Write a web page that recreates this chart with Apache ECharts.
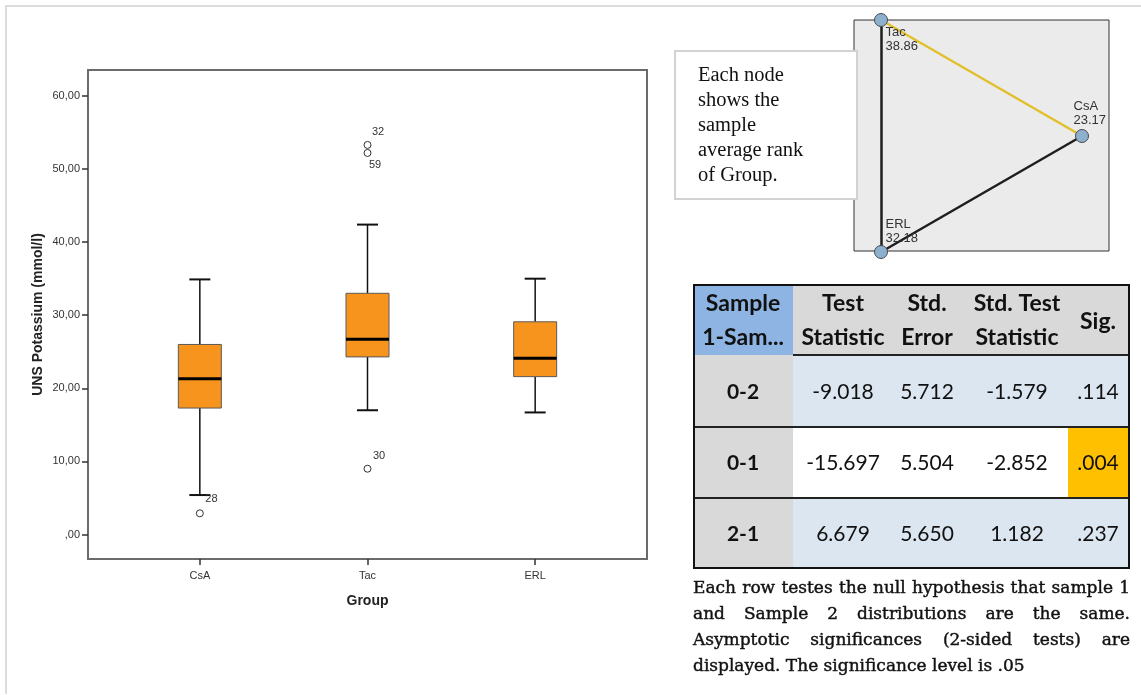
<!DOCTYPE html>
<html><head><meta charset="utf-8">
<script src="https://cdn.jsdelivr.net/npm/echarts@6/dist/echarts.min.js"></script>
<style>html,body{margin:0;padding:0;background:#fff}#c{width:1141px;height:695px}</style>
</head><body><div id="c"></div>
<script>
// ---------------- data ----------------
const groups = ['CsA', 'Tac', 'ERL'];
const whiskerLow = [5.4, 17.0, 16.7];
const q1 = [17.3, 24.3, 21.6];
const median = [21.3, 26.7, 24.1];
const q3 = [26.0, 33.0, 29.1];
const whiskerHigh = [34.9, 42.4, 35.0];
const outlierGroup = [0, 1, 1, 1];
const outlierValue = [2.9, 53.3, 52.2, 9.0];
const outlierCase = ['28', '32', '59', '30'];
const yTicks = [0, 10, 20, 30, 40, 50, 60];

const rankNodes = ['Tac', 'CsA', 'ERL'];
const meanRanks = [38.86, 23.17, 32.18];
const rankLinks = [['Tac', 'ERL'], ['ERL', 'CsA'], ['Tac', 'CsA']];
const linkSignificant = [false, false, true];

const tableHeader = [['Sample', '1-Sam...'], ['Test', 'Statistic'], ['Std.', 'Error'], ['Std. Test', 'Statistic'], ['Sig.']];
const pairLabels = ['0-2', '0-1', '2-1'];
const testStat = [-9.018, -15.697, 6.679];
const stdError = [5.712, 5.504, 5.650];
const stdTestStat = [-1.579, -2.852, 1.182];
const sigValues = [0.114, 0.004, 0.237];
const alpha = 0.05;

const noteLines = ['Each node', 'shows the', 'sample', 'average rank', 'of Group.'];
const footLines = [
  'Each row testes the null hypothesis that sample 1',
  'and Sample 2 distributions are the same.',
  'Asymptotic significances (2-sided tests) are',
  'displayed. The significance level is .05'
];

// ---------------- layout constants ----------------
const nodePos = [[27, 0], [228, 116], [27, 232]];
const nodeLabelPos = [[11.5, 13], [-1.5, -29], [11.5, -27]];
const outlierLabelPos = [[9.5, -10.5], [8.5, -8.5], [5.5, 16.5], [9.5, -8.5]];

const chart = echarts.init(document.getElementById('c'), null, {renderer: 'canvas'});
const SANS = '"Liberation Sans", Arial, sans-serif';
const SERIF = '"Liberation Serif", serif';
const FOOTSERIF = '"DejaVu Serif", serif';
const TFONT = 'Lato, "Open Sans", sans-serif';

const graphics = [];
// page frame lines
graphics.push({type: 'line', z: 50, shape: {x1: 5, y1: 6, x2: 1141, y2: 6}, style: {stroke: '#dcdcdc', lineWidth: 2}});
graphics.push({type: 'line', z: 50, shape: {x1: 6, y1: 5, x2: 6, y2: 694}, style: {stroke: '#dcdcdc', lineWidth: 2}});

// note box
graphics.push({type: 'rect', z: 50, shape: {x: 675, y: 51, width: 182, height: 148}, style: {fill: '#fff', stroke: '#d2d2d2', lineWidth: 2}});
noteLines.forEach((t, i) => {
  graphics.push({type: 'text', z: 51, x: 698, y: 76 + i * 25, style: {text: t, fontFamily: SERIF, fontSize: 20.5, fill: '#111', align: 'left', verticalAlign: 'middle'}});
});

// table
const TX0 = 694, TX1 = 793, TXS = 1068, TX2 = 1129;
const TY = [285, 355, 427, 498, 568];
const colC = [743, 843, 927, 1017, 1098];
graphics.push({type: 'rect', z: 50, shape: {x: TX0, y: TY[0], width: TX1 - TX0, height: TY[1] - TY[0]}, style: {fill: '#8db4e2'}});
graphics.push({type: 'rect', z: 50, shape: {x: TX1, y: TY[0], width: TX2 - TX1, height: TY[1] - TY[0]}, style: {fill: '#d9d9d9'}});
tableHeader.forEach((h, c) => {
  if (h.length === 1) {
    graphics.push({type: 'text', z: 52, x: colC[c], y: 322, style: {text: h[0], fontFamily: TFONT, fontWeight: 'bold', fontSize: 23, fill: '#111', align: 'center', verticalAlign: 'middle'}});
  } else {
    h.forEach((t, k) => graphics.push({type: 'text', z: 52, x: colC[c], y: 304 + k * 34, style: {text: t, fontFamily: TFONT, fontWeight: 'bold', fontSize: 23, fill: '#111', align: 'center', verticalAlign: 'middle'}}));
  }
});
const fmt3 = v => v.toFixed(3);
const fmtSig = v => v.toFixed(3).replace(/^0/, '');
pairLabels.forEach((p, r) => {
  const y0 = TY[r + 1], h = TY[r + 2] - TY[r + 1], yc = y0 + h / 2 + 1;
  const sig = sigValues[r] < alpha;
  graphics.push({type: 'rect', z: 50, shape: {x: TX0, y: y0, width: TX1 - TX0, height: h}, style: {fill: '#d9d9d9'}});
  graphics.push({type: 'rect', z: 50, shape: {x: TX1, y: y0, width: TX2 - TX1, height: h}, style: {fill: sig ? '#ffffff' : '#dce6f1'}});
  if (sig) graphics.push({type: 'rect', z: 50, shape: {x: TXS, y: y0, width: TX2 - TXS, height: h}, style: {fill: '#ffc000'}});
  const cells = [p, fmt3(testStat[r]), fmt3(stdError[r]), fmt3(stdTestStat[r]), fmtSig(sigValues[r])];
  cells.forEach((t, c) => {
    graphics.push({type: 'text', z: 52, x: colC[c], y: yc, style: {text: t, fontFamily: TFONT, fontWeight: c === 0 ? 'bold' : 'normal', fontSize: 21, fill: '#111', align: 'center', verticalAlign: 'middle'}});
  });
});
graphics.push({type: 'line', z: 53, shape: {x1: TX1, y1: TY[1], x2: TX2, y2: TY[1]}, style: {stroke: '#222', lineWidth: 2}});
graphics.push({type: 'line', z: 53, shape: {x1: TX0, y1: TY[2], x2: TX2, y2: TY[2]}, style: {stroke: '#222', lineWidth: 2}});
graphics.push({type: 'line', z: 53, shape: {x1: TX0, y1: TY[3], x2: TX2, y2: TY[3]}, style: {stroke: '#222', lineWidth: 2}});
graphics.push({type: 'rect', z: 53, shape: {x: TX0, y: TY[0], width: TX2 - TX0, height: TY[4] - TY[0]}, style: {fill: 'none', stroke: '#111', lineWidth: 2}});

// footnote, justified
const FOOT_FONT_SIZE = 17;
const mctx = document.createElement('canvas').getContext('2d');
mctx.font = FOOT_FONT_SIZE + 'px ' + FOOTSERIF;
const FX0 = 693, FX1 = 1130;
footLines.forEach((line, i) => {
  const y = 589 + i * 25.7;
  const words = line.split(' ');
  const last = i === footLines.length - 1;
  const widths = words.map(w => mctx.measureText(w).width);
  const total = widths.reduce((a, b) => a + b, 0);
  const gap = last ? mctx.measureText(' ').width : (FX1 - FX0 - total) / (words.length - 1);
  let x = FX0;
  words.forEach((w, k) => {
    graphics.push({type: 'text', z: 52, x: x, y: y, style: {text: w, fontFamily: FOOTSERIF, fontSize: FOOT_FONT_SIZE, fill: '#111', stroke: '#222', lineWidth: 0.45, align: 'left', verticalAlign: 'middle'}});
    x += widths[k] + gap;
  });
});

const option = {
  backgroundColor: '#fff',
  animation: false,
  grid: [
    {left: 88, top: 70, width: 559, height: 489, show: true, backgroundColor: '#fff', borderColor: '#6b6b6b', borderWidth: 2},
    {left: 854, top: 20, width: 255, height: 231, show: true, backgroundColor: '#ebebeb', borderColor: '#333', borderWidth: 1}
  ],
  xAxis: [
    {
      type: 'value', gridIndex: 0, min: -0.667, max: 2.667, position: 'bottom',
      axisLine: {show: false, onZero: false},
      axisTick: {show: true, customValues: [0, 1, 2], length: 6, lineStyle: {color: '#333', width: 1.5}},
      axisLabel: {customValues: [0, 1, 2], formatter: v => groups[Math.round(v)], fontFamily: SANS, fontSize: 11, color: '#333', margin: 11},
      splitLine: {show: false},
      name: 'Group', nameLocation: 'middle', nameGap: 35,
      nameTextStyle: {fontFamily: SANS, fontWeight: 'bold', fontSize: 14, color: '#222'}
    },
    {type: 'value', gridIndex: 1, min: 0, max: 255, show: false}
  ],
  yAxis: [
    {
      type: 'value', gridIndex: 0, min: -3.35, max: 63.55, position: 'left',
      axisLine: {show: false, onZero: false},
      axisTick: {show: true, customValues: yTicks, length: 6, lineStyle: {color: '#333', width: 1.5}},
      axisLabel: {customValues: yTicks, formatter: v => (v === 0 ? ',00' : v + ',00'), fontFamily: SANS, fontSize: 11, color: '#333', margin: 8},
      splitLine: {show: false},
      name: 'UNS Potassium (mmol/l)', nameLocation: 'middle', nameGap: 43, nameRotate: 90,
      nameTextStyle: {fontFamily: SANS, fontWeight: 'bold', fontSize: 14, color: '#222'}
    },
    {type: 'value', gridIndex: 1, min: 0, max: 231, inverse: true, show: false}
  ],
  series: [
    {
      type: 'custom', xAxisIndex: 0, yAxisIndex: 0, z: 3,
      data: groups.map((g, i) => [i, whiskerLow[i], q1[i], median[i], q3[i], whiskerHigh[i]]),
      encode: {x: 0, y: [1, 2, 3, 4, 5]},
      renderItem: function (params, api) {
        const x = api.value(0);
        const pL = api.coord([x, api.value(1)]);
        const p1 = api.coord([x, api.value(2)]);
        const pM = api.coord([x, api.value(3)]);
        const p3 = api.coord([x, api.value(4)]);
        const pH = api.coord([x, api.value(5)]);
        const cx = pL[0], hb = 21.5, hc = 10.5;
        const ls = {stroke: '#111', lineWidth: 1.5};
        return {
          type: 'group',
          children: [
            {type: 'line', shape: {x1: cx, y1: pL[1], x2: cx, y2: p1[1]}, style: ls},
            {type: 'line', shape: {x1: cx, y1: p3[1], x2: cx, y2: pH[1]}, style: ls},
            {type: 'line', shape: {x1: cx - hc, y1: pL[1], x2: cx + hc, y2: pL[1]}, style: {stroke: '#111', lineWidth: 2}},
            {type: 'line', shape: {x1: cx - hc, y1: pH[1], x2: cx + hc, y2: pH[1]}, style: {stroke: '#111', lineWidth: 2}},
            {type: 'rect', shape: {x: cx - hb, y: p3[1], width: hb * 2, height: p1[1] - p3[1]}, style: {fill: '#f7941e', stroke: '#5a5a5a', lineWidth: 1}},
            {type: 'line', shape: {x1: cx - hb, y1: pM[1], x2: cx + hb, y2: pM[1]}, style: {stroke: '#000', lineWidth: 3}}
          ]
        };
      }
    },
    {
      type: 'scatter', xAxisIndex: 0, yAxisIndex: 0, z: 4,
      symbol: 'circle', symbolSize: 7,
      itemStyle: {color: '#fff', borderColor: '#333', borderWidth: 1, opacity: 1},
      data: outlierValue.map((v, i) => ({
        value: [outlierGroup[i], v],
        label: {show: true, formatter: outlierCase[i], position: outlierLabelPos[i], align: 'left', verticalAlign: 'middle', fontFamily: SANS, fontSize: 11, color: '#333'}
      }))
    },
    {
      type: 'graph', coordinateSystem: 'cartesian2d', xAxisIndex: 1, yAxisIndex: 1, layout: 'none', z: 5,
      symbol: 'circle', symbolSize: 13,
      itemStyle: {color: '#8db0cf', borderColor: '#4a4a4a', borderWidth: 1},
      data: rankNodes.map((n, i) => ({
        name: n, value: nodePos[i],
        label: {show: true, formatter: n + '\n' + meanRanks[i].toFixed(2), position: nodeLabelPos[i], align: 'left', verticalAlign: 'top', fontFamily: SANS, fontSize: 13, lineHeight: 13.5, color: '#333'}
      })),
      links: rankLinks.map((l, i) => ({
        source: l[0], target: l[1],
        lineStyle: {color: linkSignificant[i] ? '#e2c02c' : '#1e1e1e', width: 2.5, opacity: 1, curveness: 0}
      })),
      emphasis: {disabled: true}
    }
  ],
  graphic: {elements: graphics}
};
chart.setOption(option);
</script>
</body></html>
